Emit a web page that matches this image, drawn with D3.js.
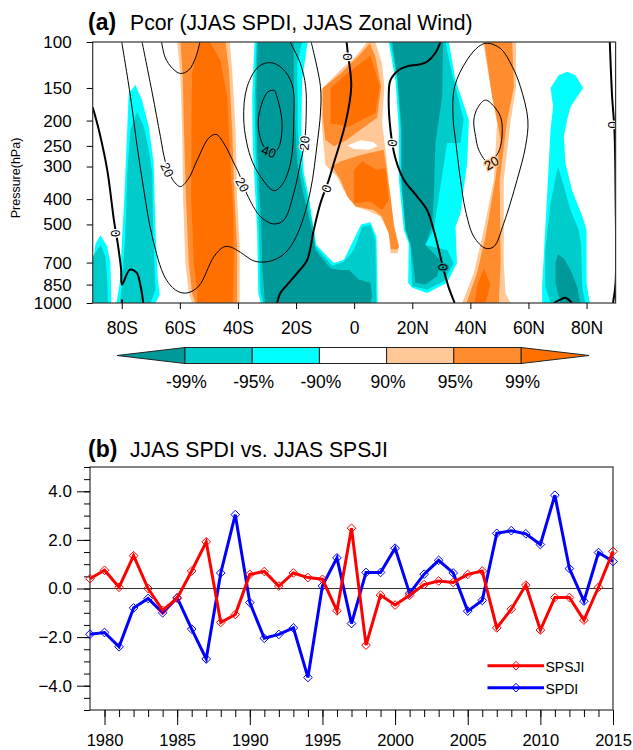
<!DOCTYPE html>
<html>
<head>
<meta charset="utf-8">
<script src="https://cdn.jsdelivr.net/npm/d3@7"></script>
<style>
  html, body { margin: 0; padding: 0; background: #fff; }
  text { font-family: "Liberation Sans", Arial, sans-serif; fill: #000; }
</style>
</head>
<body>
<div id="plot"></div>
<script>
// panel (a): lon / pressure ticks
const lonTicks = [-80, -60, -40, -20, 0, 20, 40, 60, 80];
const lonNames = ['80S', '60S', '40S', '20S', '0', '20N', '40N', '60N', '80N'];
const pressureTicks = [100, 150, 200, 250, 300, 400, 500, 700, 850, 1000];

// colorbar classes
const sigLabels = ['-99%', '-95%', '-90%', '90%', '95%', '99%'];
const sigClasses = ['n99', 'n95', 'n90', 'none', 'p90', 'p95', 'p99'];
const sigColors = ['#009999', '#00cccc', '#00ffff', '#ffffff', '#ffc896', '#ff8c2e', '#ff7000'];

// shaded significance areas, [lon, pressure]
const farLeftN90 = [[-90,1000],[-90,703],[-89,591],[-87.3,550],[-85,608],[-83.9,703],[-83.6,1000]];
const farLeftN95 = [[-90,1000],[-90,665],[-87.3,600],[-85.6,665],[-85,813],[-84.8,1000]];
const sp75N90 = [[-81.8,1000],[-80.7,837],[-79.1,391],[-77.6,157],[-75.3,146],[-73,167],[-70.7,211],[-69,291],[-68.4,525],[-67.6,813],[-66.9,930],[-68.4,1000]];
const sp75N95 = [[-80.7,1000],[-79.9,862],[-78.7,525],[-78.1,318],[-77,217],[-74.7,185],[-72.4,211],[-70.7,259],[-69.5,318],[-69.2,525],[-68.7,748],[-68.4,888],[-70.1,1000]];

const sh50P90 = [[-60.9,100],[-59.8,136],[-59.2,217],[-58.9,391],[-58.1,703],[-56.9,915],[-55.8,1000],[-39.4,1000],[-39.4,608],[-40.3,391],[-40.8,217],[-42,128],[-42.8,100]];
const sh50P95 = [[-59.8,100],[-59,136],[-58.6,217],[-57.9,391],[-56.9,703],[-55.8,915],[-54.6,1000],[-40.3,1000],[-40.3,608],[-41.2,391],[-42,217],[-43.1,128],[-44.3,100]];
const sh50P99 = [[-53.1,100],[-55.8,132],[-56,217],[-56.1,391],[-55.2,703],[-54,915],[-54,1000],[-41.8,1000],[-41.4,703],[-41.6,453],[-42.6,291],[-43.7,162],[-46,118],[-49.7,100]];

const sh25N90 = [[-34.3,100],[-35.1,162],[-34.9,251],[-33.4,525],[-33,915],[-32.2,1000],[8.1,1000],[7.7,557],[5.6,490],[2.4,500],[-1.3,608],[-3.6,685],[-7,703],[-13,600],[-13.9,525],[-15.6,391],[-17.3,318],[-18.2,217],[-17.9,140],[-16,100]];
const sh25N95 = [[-33.6,100],[-34.3,162],[-34,251],[-32.8,525],[-32.2,915],[-31.3,1000],[7.6,1000],[7.3,574],[5.6,503],[2.8,510],[-0.1,627],[-3.6,695],[-7.6,720],[-13.3,608],[-13.9,525],[-16.2,391],[-17.9,318],[-19.4,217],[-19.6,121],[-17.9,100]];
const sh25N99 = [[-33.2,100],[-33.7,162],[-33.4,251],[-31.9,525],[-31.7,703],[-30.7,1000],[5.6,1000],[6.2,943],[5.6,837],[1.6,813],[-1.8,748],[-4.7,748],[-8.1,738],[-13.3,627],[-14.5,525],[-17.3,391],[-19.6,291],[-20.8,162],[-20.8,100]];

const eqP90 = [[-11.6,153],[-4.7,128],[1,112],[4.5,100],[7.3,100],[9.6,121],[10.4,148],[9.6,205],[10.8,259],[12.5,391],[13.7,495],[15.4,608],[15,645],[12.5,645],[11.9,541],[9.1,467],[5.6,447],[0.5,427],[-3.6,369],[-5.9,328],[-9.9,296],[-11,217]];
const eqUpperP95 = [[-10.8,150],[-4.7,132],[1.6,113],[5.4,101],[7.3,114],[9.3,148],[7.9,195],[2.2,217],[-2.4,237],[-7,251],[-9.9,237],[-10.8,195]];
const eqUpperP99 = [[-8.1,150],[-2.4,132],[5.6,113],[8.8,148],[7.3,187],[-1.8,211],[-8.1,205]];
const eqLowerP95 = [[-7.6,300],[-4.7,287],[2.2,271],[10.2,259],[12.5,391],[13.7,510],[15.4,608],[15,623],[12.7,623],[11.9,541],[9.6,467],[6.8,440],[0.5,427],[-2.4,391],[-4.7,337]];
const eqLowerP99 = [[-0.1,309],[2.8,287],[7.9,309],[10.8,304],[11.9,403],[9.6,440],[5.6,409],[-0.1,415]];
const eqHole = [[-2.4,249],[2.2,238],[6.8,242],[8.1,251],[5,259],[-0.1,257]];

const nh25N90 = [[11.9,100],[32.6,100],[34.9,140],[39.5,199],[38.9,291],[36.6,453],[34.9,510],[35.4,703],[32,837],[25.1,915],[20,875],[18.6,837],[18.8,591],[17.1,525],[15.4,337],[15.4,217],[14.2,140]];
const nh25N95 = [[12.5,100],[31.4,100],[33.7,132],[36.6,177],[37.7,199],[36.6,244],[32,244],[29.7,358],[27.4,525],[24.5,600],[32,627],[34.3,703],[30.9,825],[25.1,888],[20,862],[19.4,608],[17.7,525],[16,337],[16,217],[14.8,140]];
const nh25N99 = [[13.1,100],[30.6,100],[30.3,162],[28,244],[27.4,391],[26.8,510],[24.5,600],[29.7,685],[28.6,790],[24.5,850],[21.1,837],[19.4,591],[17.7,525],[16.3,337],[16.3,211],[15,140]];

const nh50P90 = [[44.4,100],[55.7,100],[55.7,148],[53.8,205],[51.5,337],[51.5,703],[52.1,915],[53.8,1000],[37.2,1000],[41.2,768],[44.6,525],[48.1,337],[49.2,205],[46.9,148]];
const nh50P95 = [[44.8,100],[54.4,100],[55,148],[52.7,199],[50.1,337],[50.4,703],[49.8,1000],[38.7,1000],[42.3,768],[45.2,557],[48.6,337],[50.4,237],[49.2,199],[47.5,162]];
const nh50P99 = [[44.6,738],[46.9,850],[45.2,1000],[41.5,1000],[42.3,862]];

const np75N90 = [[67.6,150],[70.4,134],[73.3,130],[76.2,134],[78.8,150],[74.5,177],[73.3,199],[72.2,230],[72.7,291],[75,369],[79,481],[80,525],[80,837],[81.1,1000],[64.7,1000],[64.7,862],[66.4,391],[67.6,217],[68.5,177]];
const np75N95 = [[70.1,300],[72.2,358],[74.5,440],[77.3,525],[78.1,591],[78.5,862],[79.6,1000],[67.6,1000],[65.8,862],[65.8,627],[67.6,415]];
const np75N99 = [[70.1,650],[72.2,675],[74.5,748],[76.7,862],[77.9,1000],[71,1000],[69.3,837],[69.3,703]];

// wind contours, [lon, pressure]
const zeroSouth = [[-90,178],[-87.9,217],[-85,309],[-82.7,481],[-81.3,600],[-80.2,748],[-79.9,850],[-77.2,745],[-74.9,765],[-73.5,862],[-72.6,1000]];
const zeroSouthTail = [[-79.9,970],[-79.9,1000]];
const zeroCentral = [[-2.6,100],[-2.2,110],[-1,148],[-3,205],[-7,291],[-8.7,337],[-11.6,415],[-13.9,525],[-16.2,685],[-19.6,768],[-23,850],[-25.4,915],[-26.5,1000]];
const zeroNorth = [[29.7,100],[28,110],[25.1,119],[22.2,122],[18.2,124],[15.4,128],[12.5,140],[11.9,162],[12.5,217],[14.2,279],[17.1,337],[21.7,391],[25.1,440],[28,557],[29.7,665],[31.1,768],[32.6,875],[34.6,1000]];
const zeroEast = [[88,100],[88.8,162],[89.6,217],[90,391],[90,837],[89.1,1000]];
const zeroBottom = [[68.7,1000],[71,970],[72.7,955],[75,1000]];

const twentyOuter = [[-80,100],[-77,162],[-74.7,251],[-72.4,369],[-69.5,557],[-65,802],[-60.9,900],[-57.5,915],[-53.5,862],[-48.3,665],[-44.9,610],[-42.6,610],[-39.1,640],[-34.5,690],[-30,695],[-25.4,665],[-21.9,608],[-18.5,510],[-15,369],[-12.7,244],[-11.6,187],[-11.6,148],[-14.8,100]];
const twentyInner = [[-73,100],[-69.5,157],[-66.7,230],[-65,287],[-62.6,335],[-59.8,358],[-56.9,332],[-54,283],[-50,233],[-47.5,226],[-44.9,244],[-41.4,291],[-39.7,318],[-36.8,385],[-32.2,467],[-27.6,498],[-24.2,481],[-20.8,380],[-18.5,291],[-17.1,244],[-16.5,187],[-16.7,148],[-18.5,121],[-22.1,100]];
const twentyTop = [[-66.3,100],[-65,115],[-62.6,126],[-59.8,132],[-56.9,128],[-54.6,115],[-53.1,100]];
const thirtyOval = [[-28.8,120],[-32.8,124],[-36.8,148],[-38,199],[-35.7,275],[-32.2,328],[-27.6,371],[-24.8,352],[-21.9,291],[-20.8,199],[-21.3,146],[-24.8,126]];
const fortyOval = [[-27.6,153],[-29.9,156],[-33,199],[-31.7,244],[-29.4,263],[-26.5,259],[-24.8,205],[-27.3,154]];
const eastOuter = [[45.8,101],[50.4,106],[54.4,124],[57.2,148],[59.8,199],[59,251],[56.1,337],[51.5,495],[48.1,608],[45.2,617],[41.2,557],[38.3,440],[36.6,337],[34.9,237],[34.1,199],[34.6,148],[38.9,117],[42.9,104]];
const eastInner = [[45.2,167],[48.6,179],[50.7,199],[50.4,251],[48.6,275],[45.8,287],[42.9,259],[41.8,230],[41.2,199],[42.6,178]];

// contour labels: text, lon, pressure, rotation, class of the shading behind it
const contourLabels = [
  ['20', -64.4, 309, 65, 'none'], ['20', -38.5, 352, 60, 'none'], ['20', -17.1, 244, -85, 'none'],
  ['40', -29.4, 263, 20, 'n99'], ['20', 47.3, 291, -30, 'p90'],
  ['0', -82.2, 541, -95, 'none'], ['0', -9.5, 364, -70, 'none'], ['0', -2.4, 114, -90, 'none'],
  ['0', 13.1, 244, -85, 'none'], ['0', 30.5, 730, -88, 'n99'], ['0', 88.9, 208, -90, 'none']
];

// panel (b)
const years = d3.range(1979, 2016);
const spsji = [0.4, 0.75, 0.05, 1.35, 0, -0.9, -0.4, 0.72, 1.92, -1.4, -1.07, 0.58, 0.7, 0.1, 0.64, 0.45, 0.38, -0.92, 2.48, -2.33, -0.27, -0.68, -0.28, 0.16, 0.31, 0.25, 0.58, 0.72, -1.62, -0.85, 0.14, -1.71, -0.37, -0.37, -1.3, 0.05, 1.53];
const spdi = [-1.88, -1.81, -2.4, -0.8, -0.41, -1, -0.38, -1.67, -2.9, 0.64, 3.04, -0.58, -2.05, -1.89, -1.62, -3.66, 0.11, 1.26, -1.44, 0.66, 0.66, 1.66, -0.2, 0.59, 1.16, 0.64, -0.93, -0.49, 2.27, 2.38, 2.25, 1.81, 3.84, 0.82, -0.52, 1.48, 1.11];
const yearTicks = [1980, 1985, 1990, 1995, 2000, 2005, 2010, 2015];
const valueTicks = [-4, -2, 0, 2, 4];
const valueMinor = [-5, -4.5, -4, -3.5, -3, -2.5, -2, -1.5, -1, -0.5, 0, 0.5, 1, 1.5, 2, 2.5, 3, 3.5, 4, 4.5, 5];

let width = 633, height = 750;

let svg = d3.select('#plot')
  .append('svg')
  .attr('width', width)
  .attr('height', height)
  .style('display', 'block');

// ---- panel a ----
let mapBox = { left: 92.7, right: 615.6, top: 42, bottom: 303 };

let xLon = d3.scaleLinear().domain([-90, 90]).range([mapBox.left, mapBox.right]);
let yPres = d3.scaleLog().domain([100, 1000]).range([mapBox.top, mapBox.bottom]);
let sigColor = d3.scaleOrdinal().domain(sigClasses).range(sigColors);

svg.append('clipPath').attr('id', 'mapClip')
  .append('rect')
  .attr('x', mapBox.left).attr('y', mapBox.top)
  .attr('width', mapBox.right - mapBox.left)
  .attr('height', mapBox.bottom - mapBox.top);

let mapLayer = svg.append('g').attr('clip-path', 'url(#mapClip)');

let areaLine = d3.line().x(d => xLon(d[0])).y(d => yPres(d[1]));
let contourLine = d3.line().x(d => xLon(d[0])).y(d => yPres(d[1])).curve(d3.curveCatmullRom.alpha(0.5));
let contourLoop = d3.line().x(d => xLon(d[0])).y(d => yPres(d[1])).curve(d3.curveCatmullRomClosed.alpha(0.5));

let shaded = [
  ['n90', farLeftN90], ['n95', farLeftN95], ['n90', sp75N90], ['n95', sp75N95],
  ['p90', sh50P90], ['p95', sh50P95], ['p99', sh50P99],
  ['n90', sh25N90], ['n95', sh25N95], ['n99', sh25N99],
  ['p90', eqP90], ['p95', eqUpperP95], ['p99', eqUpperP99], ['p95', eqLowerP95], ['p99', eqLowerP99], ['none', eqHole],
  ['n90', nh25N90], ['n95', nh25N95], ['n99', nh25N99],
  ['p90', nh50P90], ['p95', nh50P95], ['p99', nh50P99],
  ['n90', np75N90], ['n95', np75N95], ['n99', np75N99]
];

mapLayer.selectAll('path.sig')
  .data(shaded)
  .enter()
  .append('path')
  .attr('class', 'sig')
  .attr('d', d => areaLine(d[1]) + 'Z')
  .attr('fill', d => sigColor(d[0]));

let thinOpen = [twentyOuter, twentyInner, twentyTop];
let thinClosed = [thirtyOval, fortyOval, eastOuter, eastInner];
let thickOpen = [zeroSouth, zeroSouthTail, zeroCentral, zeroNorth, zeroEast, zeroBottom];

mapLayer.selectAll('path.thin')
  .data(thinOpen).enter().append('path')
  .attr('class', 'thin')
  .attr('d', contourLine)
  .attr('fill', 'none').attr('stroke', '#000').attr('stroke-width', 1);

mapLayer.selectAll('path.loop')
  .data(thinClosed).enter().append('path')
  .attr('class', 'loop')
  .attr('d', contourLoop)
  .attr('fill', 'none').attr('stroke', '#000').attr('stroke-width', 1);

mapLayer.selectAll('path.thick')
  .data(thickOpen).enter().append('path')
  .attr('class', 'thick')
  .attr('d', contourLine)
  .attr('fill', 'none').attr('stroke', '#000').attr('stroke-width', 2);

// labels punch a small gap in the contour, halo takes the colour behind
let labelGroups = mapLayer.selectAll('g.clabel')
  .data(contourLabels).enter().append('g')
  .attr('class', 'clabel')
  .attr('transform', d => `translate(${xLon(d[1])},${yPres(d[2])}) rotate(${d[3]})`);

labelGroups.append('text')
  .attr('text-anchor', 'middle')
  .attr('dy', '0.35em')
  .attr('font-size', 13)
  .style('paint-order', 'stroke')
  .style('stroke', d => sigColor(d[4]))
  .style('stroke-width', 2.5)
  .text(d => d[0]);

svg.append('rect')
  .attr('x', mapBox.left).attr('y', mapBox.top)
  .attr('width', mapBox.right - mapBox.left)
  .attr('height', mapBox.bottom - mapBox.top)
  .attr('fill', 'none').attr('stroke', '#333').attr('stroke-width', 1.2);

let lonAxis = svg.append('g')
  .attr('transform', `translate(0,${mapBox.bottom})`)
  .call(d3.axisBottom(xLon).tickValues(lonTicks).tickSize(6).tickPadding(13)
    .tickFormat((d, i) => lonNames[i]));
lonAxis.select('.domain').remove();
lonAxis.selectAll('text').style('font-size', '17.5px');

let presAxis = svg.append('g')
  .attr('transform', `translate(${mapBox.left},0)`)
  .call(d3.axisLeft(yPres).tickValues(pressureTicks).tickSize(6).tickPadding(15)
    .tickFormat(d3.format('d')));
presAxis.select('.domain').remove();
presAxis.selectAll('text').style('font-size', '17px');

svg.append('text')
  .attr('transform', 'translate(20,178) rotate(-90)')
  .attr('text-anchor', 'middle')
  .attr('font-size', 12.5)
  .text('Pressure(hPa)');

svg.append('text').attr('x', 88).attr('y', 30).attr('font-size', 23).attr('font-weight', 'bold').text('(a)');
svg.append('text').attr('x', 130).attr('y', 30).attr('font-size', 21.2).text('Pcor (JJAS SPDI, JJAS Zonal Wind)');

// ---- colorbar ----
let barTop = 347.5, barBottom = 363.5;
let xBar = d3.scalePoint().domain(sigLabels).range([185, 521]);
let barStep = xBar.step();
let barMid = (barTop + barBottom) / 2;

svg.append('path')
  .attr('d', `M${xBar('-99%')},${barTop}L${xBar('-99%') - 68},${barMid}L${xBar('-99%')},${barBottom}Z`)
  .attr('fill', sigColor('n99')).attr('stroke', '#222').attr('stroke-width', 1);
svg.append('path')
  .attr('d', `M${xBar('99%')},${barTop}L${xBar('99%') + 68},${barMid}L${xBar('99%')},${barBottom}Z`)
  .attr('fill', sigColor('p99')).attr('stroke', '#222').attr('stroke-width', 1);

svg.selectAll('rect.sw')
  .data(sigLabels.slice(0, -1))
  .enter()
  .append('rect')
  .attr('class', 'sw')
  .attr('x', d => xBar(d))
  .attr('y', barTop)
  .attr('width', barStep)
  .attr('height', barBottom - barTop)
  .attr('fill', (d, i) => sigColor(sigClasses[i + 1]))
  .attr('stroke', '#222').attr('stroke-width', 1);

svg.selectAll('text.sw')
  .data(sigLabels)
  .enter()
  .append('text')
  .attr('class', 'sw')
  .attr('x', d => xBar(d) + 1.5)
  .attr('y', 388)
  .attr('text-anchor', 'middle')
  .attr('font-size', 17.5)
  .text(d => d);

// ---- panel b ----
let lineBox = { left: 90, right: 613, top: 467, bottom: 710 };

let xYear = d3.scaleLinear().domain([1979, 2015]).range([lineBox.left, lineBox.right]);
let yVal = d3.scaleLinear().domain([-5, 5]).range([lineBox.bottom, lineBox.top]);

svg.append('rect')
  .attr('x', lineBox.left).attr('y', lineBox.top)
  .attr('width', lineBox.right - lineBox.left)
  .attr('height', lineBox.bottom - lineBox.top)
  .attr('fill', 'none').attr('stroke', '#333').attr('stroke-width', 1.2);

svg.append('g')
  .attr('transform', `translate(0,${lineBox.bottom})`)
  .call(d3.axisBottom(xYear).tickValues(years.slice(1)).tickSize(7).tickFormat(''))
  .select('.domain').remove();

let yearAxis = svg.append('g')
  .attr('transform', `translate(0,${lineBox.bottom})`)
  .call(d3.axisBottom(xYear).tickValues(yearTicks).tickSize(15).tickPadding(9).tickFormat(d3.format('d')));
yearAxis.select('.domain').remove();
yearAxis.selectAll('text').style('font-size', '16.5px');

svg.append('g')
  .attr('transform', `translate(${lineBox.left},0)`)
  .call(d3.axisLeft(yVal).tickValues(valueMinor).tickSize(6).tickFormat(''))
  .select('.domain').remove();

let valueAxis = svg.append('g')
  .attr('transform', `translate(${lineBox.left},0)`)
  .call(d3.axisLeft(yVal).tickValues(valueTicks).tickSize(13).tickPadding(5).tickFormat(d3.format('.1f')));
valueAxis.select('.domain').remove();
valueAxis.selectAll('text').style('font-size', '17px');

svg.append('line')
  .attr('x1', lineBox.left).attr('x2', lineBox.right)
  .attr('y1', yVal(0)).attr('y2', yVal(0))
  .attr('stroke', '#333').attr('stroke-width', 1);

let valueLine = d3.line().x((d, i) => xYear(years[i])).y(d => yVal(d));
let diamond = d3.symbol().type(d3.symbolDiamond2).size(48);

function drawSeries(values, color) {
  svg.append('path')
    .attr('d', valueLine(values))
    .attr('fill', 'none')
    .attr('stroke', color)
    .attr('stroke-width', 3);
  svg.selectAll(null)
    .data(values)
    .enter()
    .append('path')
    .attr('d', diamond)
    .attr('transform', (d, i) => `translate(${xYear(years[i])},${yVal(d)})`)
    .attr('fill', 'none')
    .attr('stroke', color)
    .attr('stroke-width', 1);
}

drawSeries(spdi, '#0000ff');
drawSeries(spsji, '#ff0000');

// legend
let legendItems = [['SPSJI', '#ff0000', 665.7], ['SPDI', '#0000ff', 687.7]];
legendItems.forEach(d => {
  svg.append('line')
    .attr('x1', 487.5).attr('x2', 544)
    .attr('y1', d[2]).attr('y2', d[2])
    .attr('stroke', d[1]).attr('stroke-width', 3);
  svg.append('path')
    .attr('d', diamond)
    .attr('transform', `translate(516,${d[2]})`)
    .attr('fill', 'none').attr('stroke', d[1]).attr('stroke-width', 1);
  svg.append('text')
    .attr('x', 545.5).attr('y', d[2] + 6)
    .attr('font-size', 14)
    .text(d[0]);
});

svg.append('text').attr('x', 88).attr('y', 457).attr('font-size', 23).attr('font-weight', 'bold').text('(b)');
svg.append('text').attr('x', 130).attr('y', 457).attr('font-size', 21.2).text('JJAS SPDI vs. JJAS SPSJI');
</script>
</body>
</html>
